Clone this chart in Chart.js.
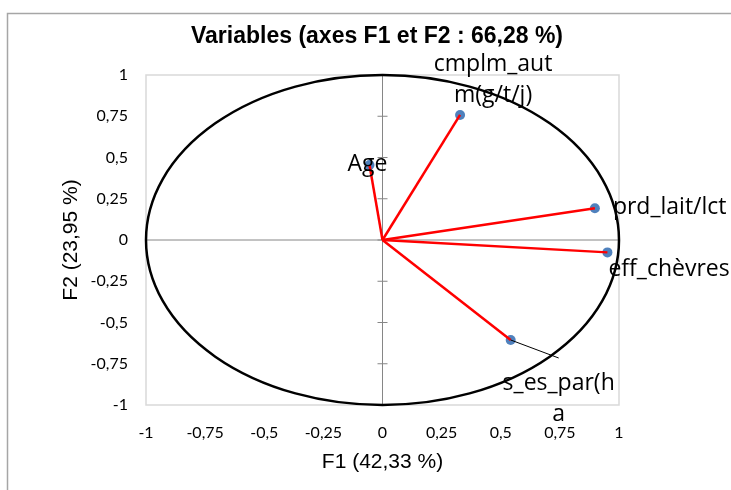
<!DOCTYPE html>
<html>
<head>
<meta charset="utf-8">
<script src="https://cdn.jsdelivr.net/npm/chart.js@4.4.0/dist/chart.umd.min.js"></script>
<style>
  html, body { margin: 0; padding: 0; background: #fff; }
  #wrap { width: 731px; height: 490px; }
</style>
</head>
<body>
<div id="wrap"><canvas id="chart" width="731" height="490"></canvas></div>
<script>
// variables on the correlation circle (F1, F2 coordinates)
const varNames = ['cmplm_autm(g/t/j)', 'Age', 'prd_lait/lct', 'eff_chèvres', 's_es_par(ha)'];
const f1Values = [0.328, -0.055, 0.898, 0.951, 0.542];
const f2Values = [0.758, 0.455, 0.192, -0.075, -0.606];
// how the names are wrapped on the picture
const labelLines = [['cmplm_aut', 'm(g/t/j)'], ['Age'], ['prd_lait/lct'], ['eff_chèvres'], ['s_es_par(h', 'a']];

const chartTitle = 'Variables (axes F1 et F2 : 66,28 %)';
const xTitle = 'F1 (42,33 %)';
const yTitle = 'F2 (23,95 %)';

// label placement in pixels, relative to each point
const labelPlace = [
    { dx: 33, dy: -50, align: 'center' },
    { dx: -2, dy: 0, align: 'center' },
    { dx: 18, dy: -1, align: 'left' },
    { dx: 1, dy: 17, align: 'left' },
    { dx: 48, dy: 43, align: 'center', leader: [48, 18] }
];

function fmt(v) {
    return String(v).replace('.', ',');
}

// one red segment from the origin to each variable
const vectorSets = f1Values.map(function (x, i) {
    return {
        label: varNames[i],
        data: [{ x: 0, y: 0 }, { x: x, y: f2Values[i] }],
        showLine: true,
        borderColor: '#ff0000',
        borderWidth: 2.5,
        pointRadius: 0,
        fill: false
    };
});

const pointSet = {
    label: 'points',
    data: f1Values.map(function (x, i) { return { x: x, y: f2Values[i] }; }),
    backgroundColor: '#4f81bd',
    borderWidth: 0,
    pointRadius: 5
};

//frame, title, unit circle and the two zero axes
const decorPlugin = {
    id: 'decor',
    beforeDraw(chart) {
        const ctx = chart.ctx;
        ctx.save();
        ctx.fillStyle = '#fff';
        ctx.fillRect(0, 0, chart.width, chart.height);
        ctx.strokeStyle = '#a6a6a6';
        ctx.lineWidth = 1.5;
        ctx.beginPath();
        ctx.moveTo(7.5, chart.height);
        ctx.lineTo(7.5, 13.5);
        ctx.lineTo(chart.width, 13.5);
        ctx.stroke();
        ctx.fillStyle = '#000';
        ctx.font = 'bold 23px "Liberation Sans", Arial, sans-serif';
        ctx.textAlign = 'center';
        ctx.textBaseline = 'middle';
        ctx.fillText(chartTitle, 377, 37);
        ctx.restore();
    },
    beforeDatasetsDraw(chart) {
        const ctx = chart.ctx;
        const a = chart.chartArea;
        const xs = chart.scales.x, ys = chart.scales.y;
        const x0 = xs.getPixelForValue(0), y0 = ys.getPixelForValue(0);
        ctx.save();
        // plot box
        ctx.strokeStyle = '#d9d9d9';
        ctx.lineWidth = 1.5;
        ctx.strokeRect(a.left, a.top, a.right - a.left, a.bottom - a.top);
        // zero axes, tick marks only on the vertical one
        ctx.strokeStyle = '#868686';
        ctx.lineWidth = 1;
        ctx.beginPath();
        ctx.moveTo(a.left, y0); ctx.lineTo(a.right, y0);
        ctx.moveTo(x0, a.top); ctx.lineTo(x0, a.bottom);
        ys.ticks.forEach(function (t) {
            const p = ys.getPixelForValue(t.value);
            ctx.moveTo(x0 - 5, p); ctx.lineTo(x0 + 5, p);
        });
        ctx.stroke();
        // correlation circle
        const rx = xs.getPixelForValue(1) - x0;
        const ry = y0 - ys.getPixelForValue(1);
        ctx.strokeStyle = '#000';
        ctx.lineWidth = 2.5;
        ctx.beginPath();
        ctx.ellipse(x0, y0, rx, ry, 0, 0, Math.PI * 2);
        ctx.stroke();
        ctx.restore();
    },
    afterDatasetsDraw(chart) {
        const ctx = chart.ctx;
        const xs = chart.scales.x, ys = chart.scales.y;
        ctx.save();
        ctx.font = '23px "Open Sans", Lato, sans-serif';
        ctx.fillStyle = '#000';
        ctx.textBaseline = 'middle';
        labelLines.forEach(function (lines, i) {
            const px = xs.getPixelForValue(f1Values[i]);
            const py = ys.getPixelForValue(f2Values[i]);
            const pl = labelPlace[i];
            if (pl.leader) {
                ctx.strokeStyle = '#000';
                ctx.lineWidth = 1;
                ctx.beginPath();
                ctx.moveTo(px, py);
                ctx.lineTo(px + pl.leader[0], py + pl.leader[1]);
                ctx.stroke();
            }
            ctx.textAlign = pl.align;
            lines.forEach(function (txt, k) {
                ctx.fillText(txt, px + pl.dx, py + pl.dy + k * 31);
            });
        });
        ctx.restore();
    }
};

new Chart(document.getElementById('chart'), {
    type: 'scatter',
    data: {
        datasets: vectorSets.concat([pointSet])
    },
    options: {
        responsive: false,
        animation: false,
        layout: {
            padding: { top: 75, right: 112, left: 0, bottom: 0 }
        },
        plugins: {
            legend: { display: false },
            tooltip: { enabled: false }
        },
        scales: {
            x: {
                type: 'linear',
                min: -1,
                max: 1,
                ticks: {
                    stepSize: 0.25,
                    padding: 18,
                    color: '#000',
                    font: { family: 'Lato', size: 16 },
                    callback: function (v) { return fmt(v); }
                },
                grid: { display: false, drawTicks: false },
                border: { display: false },
                title: {
                    display: true,
                    text: xTitle,
                    color: '#000',
                    font: { family: 'Liberation Sans', size: 21 },
                    padding: { top: 15, bottom: 15 }
                },
                afterFit: function (s) { s.height = 85; }
            },
            y: {
                type: 'linear',
                min: -1,
                max: 1,
                ticks: {
                    stepSize: 0.25,
                    padding: 18,
                    color: '#000',
                    font: { family: 'Lato', size: 16 },
                    callback: function (v) { return fmt(v); }
                },
                grid: { display: false, drawTicks: false },
                border: { display: false },
                title: {
                    display: true,
                    text: yTitle,
                    color: '#000',
                    font: { family: 'Liberation Sans', size: 21 },
                    padding: { top: 59, bottom: 59 }
                },
                afterFit: function (s) { s.width = 146; }
            }
        }
    },
    plugins: [decorPlugin]
});
</script>
</body>
</html>
